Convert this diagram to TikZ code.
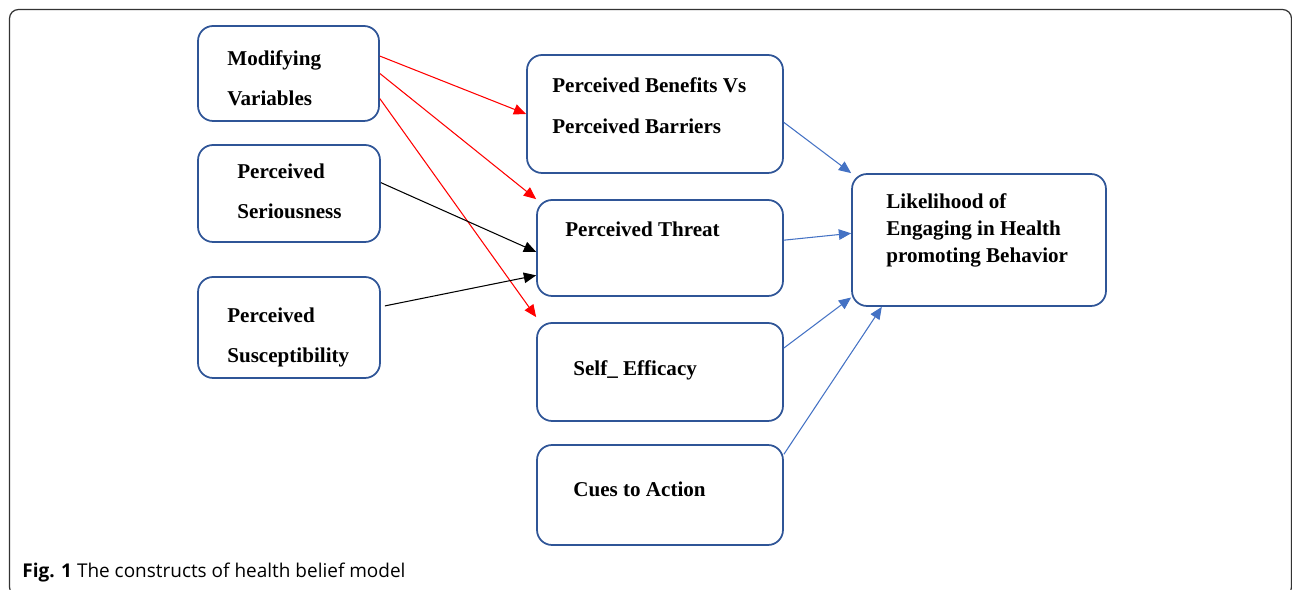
\documentclass[tikz,border=0pt]{standalone}
\usepackage{fontspec}
\setmainfont{Liberation Serif}
\newfontfamily\capfont{Open Sans}
\usetikzlibrary{calc,arrows.meta}
\definecolor{boxblue}{RGB}{47,85,151}
\definecolor{arrblue}{RGB}{68,114,196}
\tikzset{
  hbm/.style={draw=boxblue,line width=1pt,rounded corners=0.3cm,inner sep=0pt},
  lbl/.style={font=\fontsize{12}{23.2}\selectfont\bfseries,align=left,inner sep=0pt,anchor=base west},
  tip/.style={-{Triangle[length=7pt,width=6pt]},line width=0.6pt}
}
\begin{document}
\begin{tikzpicture}[x=0.02cm,y=-0.02cm]
\useasboundingbox (0,0) rectangle (1292,590);

% frame of the figure
\draw[black!80,line width=0.7pt,rounded corners=0.18cm] (9.5,9.5) rectangle (1291.5,596);

% boxes
\node[hbm,minimum width=3.62cm,minimum height=1.9cm] (mod) at (288.5,73.5) {};
\node[hbm,minimum width=3.64cm,minimum height=1.94cm] (ser) at (289,193.5) {};
\node[hbm,minimum width=3.64cm,minimum height=2.02cm] (sus) at (289,327.5) {};
\node[hbm,minimum width=5.12cm,minimum height=2.36cm] (ben) at (655,114) {};
\node[hbm,minimum width=4.92cm,minimum height=1.92cm] (thr) at (660,248) {};
\node[hbm,minimum width=4.92cm,minimum height=1.96cm] (eff) at (660,372) {};
\node[hbm,minimum width=4.92cm,minimum height=2cm] (cue) at (660,495) {};
\node[hbm,minimum width=5.08cm,minimum height=2.64cm] (lik) at (979,240) {};

% texts (base = last line)
\node[lbl] (tmod) at (227,106) {Modifying\\Variables};
\node[lbl] (tser) at (237,219) {Perceived\\Seriousness};
\node[lbl] (tsus) at (227,363) {Perceived\\Susceptibility};
\node[lbl] (tben) at (552,133.5) {Perceived Benefits Vs\\Perceived Barriers};
\node[lbl] (tthr) at (565,237) {Perceived Threat};
\node[lbl] (teff) at (573,375.5) {Self\_ Efficacy};
\node[lbl] (tcue) at (573,497) {Cues to Action};
\node[lbl,font=\fontsize{12}{15.3}\selectfont\bfseries] (tlik) at (886,262.5)
  {Likelihood of\\Engaging in Health\\promoting Behavior};

% modifying variables
\draw[tip,red] ($(mod.north east)!.32!(mod.south east)$) -- (ben.west);
\draw[tip,red] ($(mod.north east)!.5!(mod.south east)$) -- (thr.north west);
\draw[tip,red] ($(mod.north east)!.76!(mod.south east)$) -- ([yshift=0.1cm]eff.north west);

% threat
\draw[tip] ($(ser.north east)!.39!(ser.south east)$) -- ($(thr.north west)!.54!(thr.south west)$);
\draw[tip] ([xshift=0.08cm]$(sus.north east)!.29!(sus.south east)$) -- ($(thr.north west)!.78!(thr.south west)$);

% likelihood
\draw[tip,arrblue] ($(ben.north east)!.57!(ben.south east)$) -- (lik.north west);
\draw[tip,arrblue] ($(thr.north east)!.42!(thr.south east)$) -- ($(lik.north west)!.45!(lik.south west)$);
\draw[tip,arrblue] ($(eff.north east)!.26!(eff.south east)$) -- ($(lik.north west)!.93!(lik.south west)$);
\draw[tip,arrblue] ($(cue.north east)!.1!(cue.south east)$) -- ($(lik.south west)!.12!(lik.south east)$);

% caption
\node[inner sep=0pt,anchor=base west,font=\capfont\fontsize{10.8}{13}\selectfont] (cap) at (22,578)
  {\textbf{Fig. 1} The constructs of health belief model};
\end{tikzpicture}
\end{document}
